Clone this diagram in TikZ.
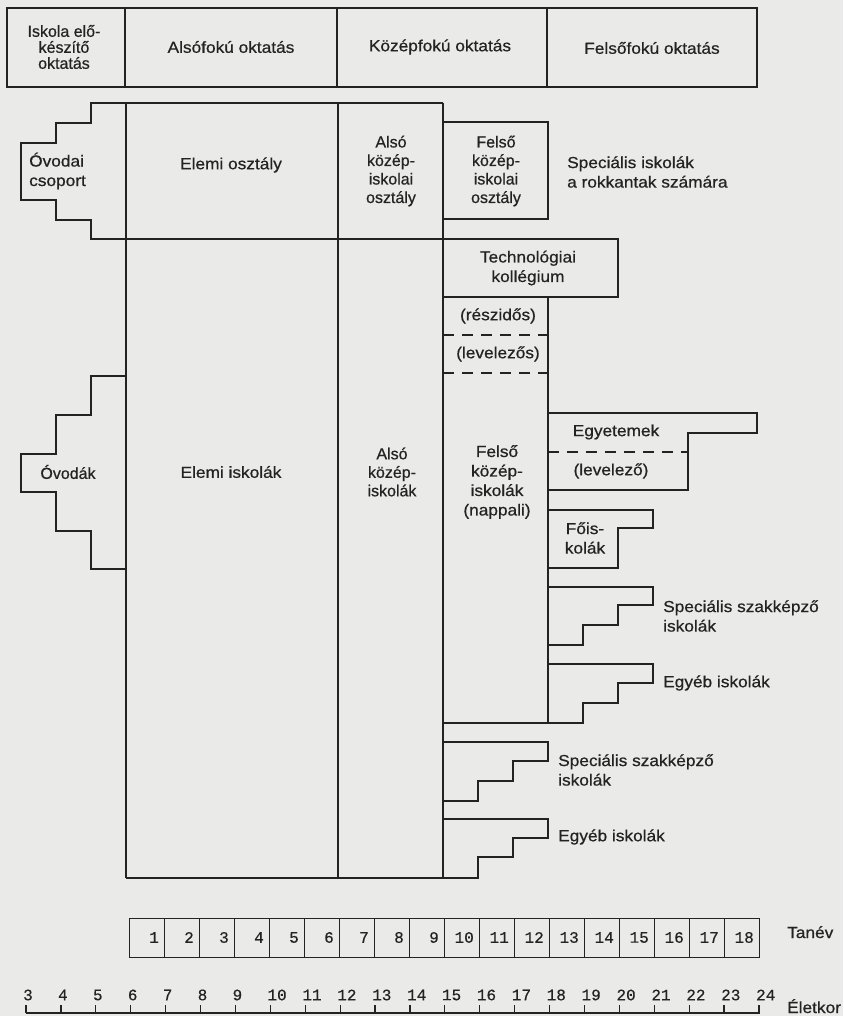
\documentclass[tikz,border=0pt]{standalone}
\usepackage{fontspec}
\setmainfont{Liberation Sans}[FakeStretch=1.08,FakeBold=0.6]
\newfontfamily\narrowsf{Liberation Sans}[FakeBold=0.6]
\newfontfamily\digitsf{Liberation Mono}[FakeBold=0.4]
\definecolor{paper}{RGB}{234,234,232}
\definecolor{ink}{RGB}{35,35,35}
\begin{document}
\begin{tikzpicture}[x=1pt,y=-1pt,
  ln/.style={draw=ink,line width=1.2pt,line join=miter},
  dsh/.style={draw=ink,line width=1.2pt,dash pattern=on 11pt off 8pt},
  lab/.style={font=\fontsize{16}{19.5}\selectfont,text=ink,align=center,inner sep=0pt},
  nlab/.style={font=\narrowsf\fontsize{16}{18.5}\selectfont,text=ink,align=center,inner sep=0pt},
  hlab/.style={font=\narrowsf\fontsize{16}{16}\selectfont,text=ink,align=center,inner sep=0pt},
  llab/.style={lab,align=left,anchor=west},
  num/.style={font=\digitsf\fontsize{16}{16}\selectfont,text=ink,inner sep=0pt},
  cell/.style={draw=ink,line width=1.2pt,inner sep=0pt,minimum width=35pt,minimum height=39pt,anchor=north west}
]
\fill[paper] (0,0) rectangle (843,1016);
\useasboundingbox (0,0) rectangle (843,1016);

% header
\draw[ln] (7,8) rectangle (757,87);
\draw[ln] (125,8) -- (125,87);
\draw[ln] (337,8) -- (337,87);
\draw[ln] (547,8) -- (547,87);
\node[hlab] (isk) at (64,47) {Iskola elő-\\készítő\\oktatás};
\node[lab] (alsofok) at (231,47) {Alsófokú oktatás};
\node[lab] (kozepfok) at (440,47) {Középfokú oktatás};
\node[lab] (felsofok) at (652,48) {Felsőfokú oktatás};

% main columns
\draw[ln] (443,103) -- (91,103) -- (91,123) -- (56,123) -- (56,143) -- (21,143) -- (21,200) -- (56,200) -- (56,220) -- (91,220) -- (91,239) -- (618,239) -- (618,297) -- (443,297);
\draw[ln] (126,103) -- (126,878);
\draw[ln] (338,103) -- (338,878);
\draw[ln] (443,103) -- (443,878);
\draw[ln] (443,122) -- (548,122) -- (548,219) -- (443,219);
\draw[ln] (548,297) -- (548,723);
\draw[dsh] (443,335) -- (548,335);
\draw[dsh] (443,373) -- (548,373);

% Ovodak
\draw[ln] (126,376) -- (91,376) -- (91,415) -- (56,415) -- (56,454) -- (21,454) -- (21,492) -- (56,492) -- (56,531) -- (91,531) -- (91,569) -- (126,569);

% higher education
\draw[ln] (548,413) -- (757,413) -- (757,433) -- (688,433) -- (688,490) -- (548,490);
\draw[dsh] (548,452) -- (688,452);
\draw[ln] (548,510) -- (653,510) -- (653,528) -- (618,528) -- (618,568) -- (548,568);
\draw[ln] (548,587) -- (653,587) -- (653,605) -- (618,605) -- (618,625) -- (583,625) -- (583,645) -- (548,645);
\draw[ln] (548,664) -- (653,664) -- (653,683) -- (618,683) -- (618,703) -- (583,703) -- (583,723) -- (443,723);
\draw[ln] (443,742) -- (548,742) -- (548,761) -- (513,761) -- (513,781) -- (478,781) -- (478,801) -- (443,801);
\draw[ln] (443,819) -- (548,819) -- (548,838) -- (513,838) -- (513,857) -- (478,857) -- (478,878) -- (126,878);

% labels
\node[lab,align=left,anchor=west] (ovcs) at (29,171) {Óvodai\\csoport};
\node[lab] (elo) at (231,165) {Elemi osztály};
\node[nlab] (akio) at (391,171) {Alsó\\közép-\\iskolai\\osztály};
\node[nlab] (fkio) at (496,171) {Felső\\közép-\\iskolai\\osztály};
\node[llab] (spec) at (567,172) {Speciális iskolák\\a rokkantak számára};
\node[lab] (tech) at (528,268) {Technológiai\\kollégium};
\node[lab] (resz) at (498,316) {(részidős)};
\node[lab] (lev) at (498,354) {(levelezős)};
\node[lab] (fkn) at (497,482) {Felső\\közép-\\iskolák\\(nappali)};
\node[nlab] (aki) at (392,472) {Alsó\\közép-\\iskolák};
\node[nlab] (ovo) at (68,472) {Óvodák};
\node[lab] (eli) at (231,472) {Elemi iskolák};
\node[lab] (egy) at (616,432) {Egyetemek};
\node[lab] (levz) at (611,471) {(levelező)};
\node[lab] (fois) at (585,538) {Főis-\\kolák};
\node[llab] (sszA) at (663,616) {Speciális szakképző\\iskolák};
\node[llab] (egyA) at (663,683) {Egyéb iskolák};
\node[llab] (sszB) at (558,770) {Speciális szakképző\\iskolák};
\node[llab] (egyB) at (558,837) {Egyéb iskolák};

% school years
\foreach \k in {1,...,18} {
  \node[cell] (t\k) at ({129+35*(\k-1)},918) {};
  \node[num,anchor=east] (n\k) at ({129+35*\k-5},937.5) {\k};
}
\node[lab,anchor=base west] (tanev) at (787,938) {Tanév};

% age axis
\draw[ln] (26,1013) -- (760,1013);
\foreach \a [count=\i from 0] in {3,...,24} {
  \pgfmathsetmacro\xx{26+34.9*\i}
  \draw[ln] (\xx,1005) -- (\xx,1013);
  \node[num,anchor=west] (a\a) at ({\xx-3},995) {\a};
}
\node[lab,anchor=base west] (eletkor) at (787,1013) {Életkor};
\end{tikzpicture}
\end{document}
